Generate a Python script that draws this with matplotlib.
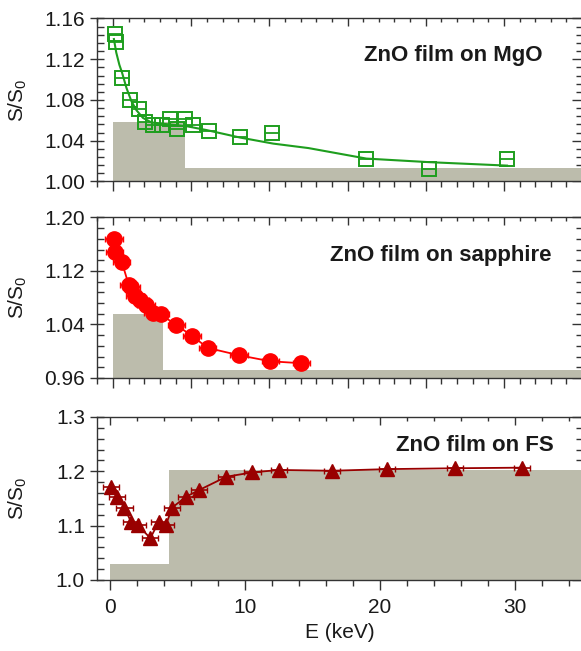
import matplotlib.pyplot as plt
from matplotlib.ticker import MultipleLocator, FormatStrFormatter

plt.rcParams['font.family'] = ['Liberation Sans', 'DejaVu Sans']
plt.rcParams['mathtext.default'] = 'regular'

# --- ZnO film on MgO ---
mgo_e = [0.1, 0.2, 0.57, 1.06, 1.63, 2.06, 2.55, 3.15, 3.62, 4.09, 4.63, 5.12, 6.12, 8.1, 10.14, 16.17, 20.18, 25.2]
mgo_s = [1.1447, 1.1365, 1.102, 1.080, 1.0713, 1.058, 1.055, 1.055, 1.0614, 1.0519, 1.0614, 1.0555, 1.050, 1.044, 1.0472, 1.0219, 1.0123, 1.0222]
mgo_err = 0.5
# fitted S(E) curve
mgo_fit_e = [0.05, 0.2, 0.4, 0.57, 0.85, 1.17, 1.49, 1.91, 2.45, 3.41, 4.69, 5.97, 8.1, 10.24, 12.5, 16.2, 20.2, 25.2]
mgo_fit_s = [1.1398, 1.1266, 1.1145, 1.1069, 1.092, 1.0788, 1.070, 1.0624, 1.058, 1.0563, 1.0543, 1.0505, 1.0432, 1.0372, 1.0328, 1.0225, 1.019, 1.0156]
# layer model (step profile)
mgo_layer_e = [0, 4.58, 40]
mgo_layer_s = [1.058, 1.0135, 1.0135]

# --- ZnO film on sapphire ---
sap_e = [0.05, 0.1, 0.55, 1.0, 1.15, 1.4, 1.75, 2.1, 2.55, 3.05, 4.05, 5.05, 6.05, 8.05, 10.05, 12.05]
sap_s = [1.168, 1.149, 1.134, 1.099, 1.096, 1.082, 1.076, 1.069, 1.057, 1.055, 1.039, 1.023, 1.005, 0.994, 0.985, 0.982]
sap_err = 0.55
sap_layer_e = [0, 3.19, 40]
sap_layer_s = [1.0555, 0.972, 0.972]

# --- ZnO film on fused silica ---
fs_e = [0.05, 0.5, 1.04, 1.53, 2.05, 2.96, 3.58, 4.12, 4.57, 5.6, 6.6, 8.6, 10.54, 12.54, 16.42, 20.5, 25.55, 30.54]
fs_s = [1.1717, 1.152, 1.133, 1.107, 1.101, 1.0767, 1.107, 1.101, 1.133, 1.153, 1.1657, 1.190, 1.198, 1.2025, 1.201, 1.204, 1.2056, 1.2067]
fs_err = 0.6
fs_layer_e = [0, 4.35, 40]
fs_layer_s = [1.029, 1.2025, 1.2025]

fill_color = '#bcbcac'
green = '#1e9e1e'
red = '#ff0000'
dark_red = '#990000'
axis_color = '#333333'
text_color = '#1a1a1a'

fig = plt.figure(figsize=(5.81, 6.51), dpi=100)
left, width = 0.1678, 0.834
ax1 = fig.add_axes([left, 0.7212, width, 0.2504])
ax2 = fig.add_axes([left, 0.4194, width, 0.2465])
ax3 = fig.add_axes([left, 0.1091, width, 0.2504])


def style_axes(ax, xmaj, xmin, ymaj, ymin, yfmt):
    ax.xaxis.set_major_locator(MultipleLocator(xmaj))
    ax.xaxis.set_minor_locator(MultipleLocator(xmin))
    ax.yaxis.set_major_locator(MultipleLocator(ymaj))
    ax.yaxis.set_minor_locator(MultipleLocator(ymin))
    ax.yaxis.set_major_formatter(FormatStrFormatter(yfmt))
    for sp in ax.spines.values():
        sp.set_color(axis_color)
        sp.set_linewidth(1.0)
    ax.tick_params(axis='x', which='major', direction='out', length=7, width=1, color=axis_color,
                   labelsize=15, pad=6, labelcolor=text_color)
    ax.tick_params(axis='x', which='minor', direction='out', length=4, width=1, color=axis_color)
    ax.tick_params(axis='y', which='major', direction='inout', length=10, width=1, color=axis_color,
                   labelsize=15, pad=4, labelcolor=text_color)
    ax.tick_params(axis='y', which='minor', direction='in', length=5, width=1, color=axis_color)
    # inward ticks on the top and right edges
    top = ax.secondary_xaxis('top')
    top.xaxis.set_major_locator(MultipleLocator(xmaj))
    top.xaxis.set_minor_locator(MultipleLocator(xmin))
    top.tick_params(which='major', direction='in', length=6, width=1, color=axis_color, labeltop=False)
    top.tick_params(which='minor', direction='in', length=3, width=1, color=axis_color)
    top.spines['top'].set_visible(False)
    right = ax.secondary_yaxis('right')
    right.yaxis.set_major_locator(MultipleLocator(ymaj))
    right.yaxis.set_minor_locator(MultipleLocator(ymin))
    right.tick_params(which='major', direction='in', length=7, width=1, color=axis_color, labelright=False)
    right.tick_params(which='minor', direction='in', length=4, width=1, color=axis_color)
    right.spines['right'].set_visible(False)
    ax.set_ylabel('S/S$_0$', fontsize=15, color=text_color)
    ax.yaxis.set_label_coords(-0.142, 0.5)


# top panel
ax1.fill_between(mgo_layer_e, 1.0, mgo_layer_s, step='post', color=fill_color, lw=0, zorder=1)
ax1.plot(mgo_fit_e, mgo_fit_s, color=green, lw=1.5, zorder=2)
ax1.errorbar(mgo_e, mgo_s, xerr=mgo_err, fmt='s', ms=10, mfc='none', mec=green, mew=1.4,
             ecolor=green, elinewidth=1.3, capsize=0, zorder=3)
ax1.set_xlim(-1.0, 30.0)
ax1.set_ylim(1.0, 1.16)
style_axes(ax1, 5, 1, 0.04, 0.008, '%.2f')
ax1.tick_params(axis='x', labelbottom=False)
ax1.text(0.734, 0.776, 'ZnO film on MgO', transform=ax1.transAxes, fontsize=16,
         fontweight='bold', ha='center', va='center', color=text_color)

# middle panel
ax2.fill_between(sap_layer_e, 0.96, sap_layer_s, step='post', color=fill_color, lw=0, zorder=1)
ax2.errorbar(sap_e, sap_s, xerr=sap_err, fmt='o-', ms=11, color=red, mec=red, lw=1.3,
             ecolor=red, elinewidth=1.2, capsize=2, zorder=3)
ax2.set_xlim(-1.0, 30.0)
ax2.set_ylim(0.96, 1.20)
style_axes(ax2, 5, 1, 0.08, 0.016, '%.2f')
ax2.tick_params(axis='x', labelbottom=False)
ax2.text(0.709, 0.766, 'ZnO film on sapphire', transform=ax2.transAxes, fontsize=16,
         fontweight='bold', ha='center', va='center', color=text_color)

# bottom panel
ax3.fill_between(fs_layer_e, 1.0, fs_layer_s, step='post', color=fill_color, lw=0, zorder=1)
ax3.errorbar(fs_e, fs_s, xerr=fs_err, fmt='^-', ms=10.5, color=dark_red, mec=dark_red, lw=1.3,
             ecolor=dark_red, elinewidth=1.2, capsize=2, zorder=3)
ax3.set_xlim(-0.96, 35.0)
ax3.set_ylim(1.0, 1.3)
style_axes(ax3, 10, 2, 0.1, 0.02, '%.1f')
ax3.set_xlabel('E (keV)', fontsize=15, labelpad=4, color=text_color)
ax3.text(0.779, 0.828, 'ZnO film on FS', transform=ax3.transAxes, fontsize=16,
         fontweight='bold', ha='center', va='center', color=text_color)

fig.savefig('out.png', dpi=100)
